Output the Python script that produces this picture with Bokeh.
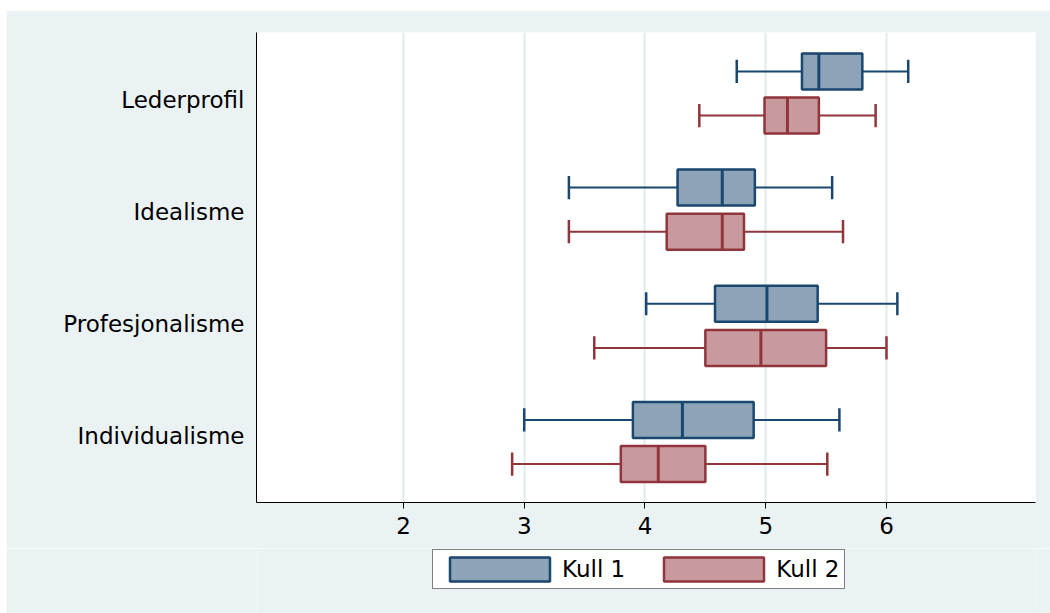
from bokeh.plotting import figure
from bokeh.layouts import column
from bokeh.models import ColumnDataSource, FixedTicker, Range1d, Legend, LegendItem
from bokeh.embed import file_html
from bokeh.resources import INLINE

# ---- data (top to bottom as in the picture) ----
categories = ["Lederprofil", "Idealisme", "Profesjonalisme", "Individualisme"]
series = ["Kull 1", "Kull 2"]

k1_low = [4.76, 3.37, 4.01, 3.00]
k1_q1 = [5.30, 4.27, 4.58, 3.90]
k1_med = [5.44, 4.64, 5.01, 4.31]
k1_q3 = [5.80, 4.91, 5.43, 4.90]
k1_high = [6.18, 5.55, 6.09, 5.61]

k2_low = [4.45, 3.37, 3.58, 2.90]
k2_q1 = [4.99, 4.18, 4.50, 3.80]
k2_med = [5.18, 4.64, 4.96, 4.11]
k2_q3 = [5.44, 4.82, 5.50, 4.50]
k2_high = [5.91, 5.64, 6.00, 5.51]

x_ticks = [2, 3, 4, 5, 6]

# ---- styling ----
FONT = "DejaVu Sans"
BG = "#EAF2F3"
fills = ["#8DA3B7", "#C89A9D"]
lines = ["#1A476F", "#90353B"]
offsets = [0.19, -0.19]
box_h = 0.31
cap_h = 0.20
label_squeeze = 0.964

n = len(categories)
group_pos = [n - i for i in range(n)]
mid = (n + 1) / 2
label_pos = [mid + (g - mid) * label_squeeze for g in group_pos]

p = figure(width=1044, height=538, output_backend="svg", toolbar_location=None,
           x_range=Range1d(0.783, 7.234), y_range=Range1d(0.479, 4.525),
           min_border_left=250, min_border_right=15, min_border_top=22, min_border_bottom=46)
p.margin = (10, 0, 0, 6)
p.background_fill_color = "white"
p.border_fill_color = BG
p.outline_line_color = None

data_sets = [
    (k1_low, k1_q1, k1_med, k1_q3, k1_high),
    (k2_low, k2_q1, k2_med, k2_q3, k2_high),
]

sources = []
for s, (lo, q1, med, q3, hi) in enumerate(data_sets):
    ys = [g + offsets[s] for g in group_pos]
    src = ColumnDataSource(dict(
        y=ys, lo=lo, q1=q1, med=med, q3=q3, hi=hi,
        ytop=[y + box_h / 2 for y in ys], ybot=[y - box_h / 2 for y in ys],
        ctop=[y + cap_h / 2 for y in ys], cbot=[y - cap_h / 2 for y in ys],
    ))
    sources.append(src)
    # whiskers
    p.segment(x0="lo", y0="y", x1="q1", y1="y", source=src, line_color=lines[s], line_width=2)
    p.segment(x0="q3", y0="y", x1="hi", y1="y", source=src, line_color=lines[s], line_width=2)
    # caps
    p.segment(x0="lo", y0="cbot", x1="lo", y1="ctop", source=src, line_color=lines[s], line_width=2.5)
    p.segment(x0="hi", y0="cbot", x1="hi", y1="ctop", source=src, line_color=lines[s], line_width=2.5)
    # boxes
    p.hbar(y="y", left="q1", right="q3", height=box_h, source=src,
           fill_color=fills[s], line_color=lines[s], line_width=2.5)
    # medians
    p.segment(x0="med", y0="ybot", x1="med", y1="ytop", source=src, line_color=lines[s], line_width=3)

# axes
p.xaxis.ticker = FixedTicker(ticks=x_ticks)
p.xaxis.axis_line_color = "black"
p.xaxis.axis_line_width = 1
p.xaxis.major_tick_line_color = "black"
p.xaxis.major_tick_out = 6
p.xaxis.major_tick_in = 0
p.xaxis.minor_tick_line_color = None
p.xaxis.major_label_text_font = FONT
p.xaxis.major_label_text_font_size = "23px"
p.xaxis.major_label_text_color = "black"
p.xaxis.major_label_standoff = 8

p.yaxis.ticker = FixedTicker(ticks=label_pos)
p.yaxis.major_label_overrides = {lp: c for lp, c in zip(label_pos, categories)}
p.yaxis.axis_line_color = "black"
p.yaxis.major_tick_line_color = None
p.yaxis.minor_tick_line_color = None
p.yaxis.major_label_text_font = FONT
p.yaxis.major_label_text_font_size = "23px"
p.yaxis.major_label_text_color = "black"
p.yaxis.major_label_standoff = 6

p.xgrid.grid_line_color = "#E0EAEC"
p.xgrid.grid_line_width = 2
p.ygrid.grid_line_color = None

# ---- legend strip below the chart ----
lf = figure(width=1044, height=65, output_backend="svg", toolbar_location=None,
            x_range=Range1d(0, 1), y_range=Range1d(0, 1),
            x_axis_type=None, y_axis_type=None,
            min_border_left=0, min_border_right=0, min_border_top=0, min_border_bottom=0)
lf.margin = (0, 0, 0, 6)
lf.background_fill_color = BG
lf.border_fill_color = BG
lf.outline_line_color = None
lf.grid.grid_line_color = None

leg_rs = []
for s in range(2):
    r = lf.hbar(y="y", left="q1", right="q3", height=box_h, source=sources[s],
                fill_color=fills[s], line_color=lines[s], line_width=2.5)
    r.visible = False
    leg_rs.append(r)

legend = Legend(items=[LegendItem(label=series[i], renderers=[leg_rs[i]]) for i in range(2)],
                location=(176, 24), orientation="horizontal")
legend.glyph_width = 125
legend.glyph_height = 30
legend.label_height = 30
legend.label_standoff = 0
legend.spacing = 26
legend.padding = 4
legend.margin = 0
legend.border_line_color = "black"
legend.border_line_width = 1
legend.background_fill_color = "white"
legend.background_fill_alpha = 1
legend.inactive_fill_alpha = 0
legend.label_text_font = FONT
legend.label_text_font_size = "23px"
legend.label_text_color = "black"
lf.add_layout(legend, "center")

layout = column(p, lf, spacing=0)
open("out.html", "w").write(file_html(layout, INLINE))
